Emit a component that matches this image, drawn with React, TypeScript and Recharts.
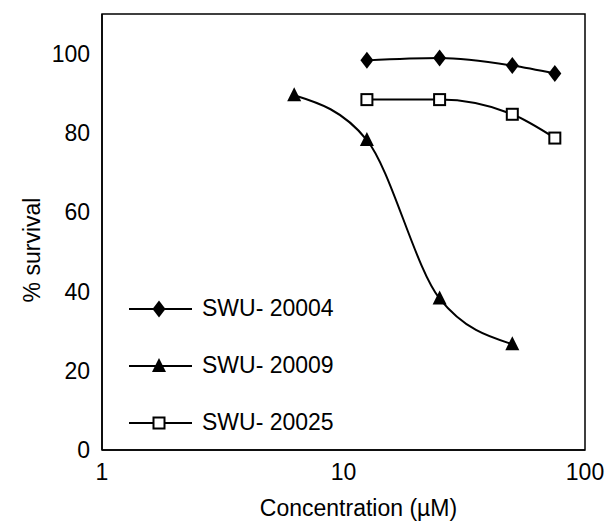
import React from 'react';
import { LineChart, Line, XAxis, YAxis, ReferenceArea } from 'recharts';

// concentração (µM), eixo log
const concentrations = [6.25, 12.5, 25, 50, 75];
const swu20004 = [null, 98.3, 98.9, 97.0, 95.0];
const swu20009 = [89.5, 78.2, 38.2, 26.7, null];
const swu20025 = [null, 88.4, 88.4, 84.7, 78.7];
const seriesNames = ['SWU- 20004', 'SWU- 20009', 'SWU- 20025'];
const seriesMarkers = ['diamond', 'triangle', 'square'];
const xTicks = [1, 10, 100];
const yTicks = [0, 20, 40, 60, 80, 100];

const rows = concentrations.map((c, i) => ({
  x: c,
  s4: swu20004[i],
  s9: swu20009[i],
  s25: swu20025[i],
}));

const FONT = 'Liberation Sans, Arial, sans-serif';
const FS = 23;

function Marker({ kind, cx, cy }: { kind: string; cx: number; cy: number }) {
  if (cx == null || cy == null) return null;
  if (kind === 'diamond') {
    return (
      <polygon
        points={`${cx},${cy - 8.5} ${cx + 6.5},${cy} ${cx},${cy + 8.5} ${cx - 6.5},${cy}`}
        fill="#000"
      />
    );
  }
  if (kind === 'triangle') {
    return <polygon points={`${cx},${cy - 8} ${cx + 7},${cy + 6} ${cx - 7},${cy + 6}`} fill="#000" />;
  }
  return <rect x={cx - 5.5} y={cy - 5.5} width={11} height={11} fill="#fff" stroke="#000" strokeWidth={2} />;
}

// legenda desenhada por cima do gráfico, no canto inferior esquerdo
function LegendBox() {
  return (
    <div style={{ position: 'absolute', left: 129, top: 280 }}>
      {seriesNames.map((name, i) => (
        <div key={name} style={{ height: 57, display: 'flex', alignItems: 'center' }}>
          <svg width={63} height={20}>
            <line x1={0} y1={10} x2={63} y2={10} stroke="#000" strokeWidth={2} />
            <Marker kind={seriesMarkers[i]} cx={30} cy={10} />
          </svg>
          <span style={{ marginLeft: 10, fontFamily: FONT, fontSize: FS, color: '#000' }}>{name}</span>
        </div>
      ))}
    </div>
  );
}

const XLabel = ({ viewBox }: any) => (
  <text
    x={viewBox.x + viewBox.width / 2 + 15}
    y={viewBox.y + 58}
    textAnchor="middle"
    dominantBaseline="central"
    fontFamily={FONT}
    fontSize={FS}
    fill="#000"
  >
    Concentration (µM)
  </text>
);

const YLabel = ({ viewBox }: any) => {
  const x = viewBox.x - 10;
  const y = viewBox.y + viewBox.height / 2 + 18;
  return (
    <text
      x={x}
      y={y}
      transform={`rotate(-90, ${x}, ${y})`}
      textAnchor="middle"
      dominantBaseline="central"
      fontFamily={FONT}
      fontSize={FS}
      fill="#000"
    >
      % survival
    </text>
  );
};

export default function App() {
  const tickStyle = { fontFamily: FONT, fontSize: FS, fill: '#000' };
  return (
    <div style={{ position: 'absolute', left: 0, top: 0, width: 613, height: 522, background: '#fff' }}>
      <LineChart width={613} height={522} data={rows} margin={{ top: 14, right: 28, bottom: 42, left: 42 }}>
        <XAxis
          dataKey="x"
          type="number"
          scale="log"
          domain={[1, 100]}
          ticks={xTicks}
          allowDataOverflow
          height={30}
          tickLine={false}
          tickSize={0}
          tickMargin={14}
          tick={tickStyle}
          axisLine={{ stroke: '#000', strokeWidth: 1.5 }}
          label={<XLabel />}
        />
        <YAxis
          type="number"
          domain={[0, 110]}
          ticks={yTicks}
          width={60}
          tickLine={false}
          tickSize={0}
          tickMargin={12}
          tick={tickStyle}
          axisLine={{ stroke: '#000', strokeWidth: 1.5 }}
          label={<YLabel />}
        />
        <ReferenceArea x1={1} x2={100} y1={0} y2={110} fill="none" stroke="#000" strokeWidth={1.5} />
        <Line
          name={seriesNames[0]}
          dataKey="s4"
          type="monotone"
          stroke="#000"
          strokeWidth={2}
          connectNulls
          isAnimationActive={false}
          dot={(p: any) => <Marker key={p.index} kind={seriesMarkers[0]} cx={p.cx} cy={p.cy} />}
        />
        <Line
          name={seriesNames[1]}
          dataKey="s9"
          type="monotone"
          stroke="#000"
          strokeWidth={2}
          connectNulls
          isAnimationActive={false}
          dot={(p: any) => <Marker key={p.index} kind={seriesMarkers[1]} cx={p.cx} cy={p.cy} />}
        />
        <Line
          name={seriesNames[2]}
          dataKey="s25"
          type="monotone"
          stroke="#000"
          strokeWidth={2}
          connectNulls
          isAnimationActive={false}
          dot={(p: any) => <Marker key={p.index} kind={seriesMarkers[2]} cx={p.cx} cy={p.cy} />}
        />
      </LineChart>
      <LegendBox />
    </div>
  );
}
